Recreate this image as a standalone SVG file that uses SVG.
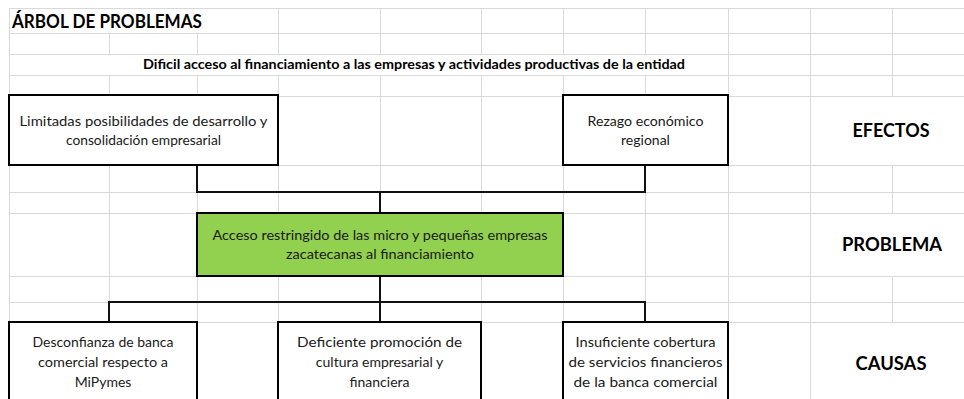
<svg xmlns="http://www.w3.org/2000/svg" width="964" height="399" viewBox="0 0 964 399">
<style>
.grid{stroke:#d9d9d9;stroke-width:1;fill:none;shape-rendering:crispEdges}
.box{fill:#ffffff;stroke:#000000;stroke-width:2}
.green{fill:#92d050;stroke:#000000;stroke-width:2}
.conn{stroke:#111111;stroke-width:2;fill:none}
.t{font-family:Lato,"Liberation Sans",sans-serif;font-size:14px;fill:#1a1a1a;text-anchor:middle}
.lab{font-family:Lato,"Liberation Sans",sans-serif;font-size:19px;font-weight:bold;fill:#000;text-anchor:middle}
.title{font-family:Lato,"Liberation Sans",sans-serif;font-size:18px;font-weight:bold;fill:#000}
.sub{font-family:Lato,"Liberation Sans",sans-serif;font-size:12.5px;font-weight:bold;fill:#000;text-anchor:middle}
</style>
<rect x="0" y="0" width="964" height="399" fill="#ffffff"/>
<g id="grid">
<path class="grid" d="M9 8.5H964M9 33.5H964M9 54.5H964M9 75.5H964M9 96.5H964M9 165.5H964M9 192.5H964M9 213.5H964M9 276.5H964M9 302.5H964M9 322.5H964"/>
<path class="grid" d="M9.5 8V399M109.5 33V54M109.5 75V96M109.5 165V322M197.5 33V54M197.5 75V96M197.5 165V399M278.5 8V54M278.5 75V213M278.5 276V399M380.5 8V54M380.5 75V213M380.5 276V322M481.5 8V54M481.5 75V213M481.5 276V399M563.5 8V54M563.5 75V399M645.5 8V54M645.5 75V96M645.5 165V322M728.5 8V399M810.5 8V399M892.5 8V96M892.5 165V213M892.5 276V322"/>
</g>
<g id="title">
<text class="title" x="12" y="28" textLength="190" lengthAdjust="spacingAndGlyphs">ÁRBOL DE PROBLEMAS</text>
<text class="sub" x="414" y="69" textLength="542" lengthAdjust="spacingAndGlyphs">Dificil acceso al financiamiento a las empresas y actividades productivas de la entidad</text>
</g>
<g id="connectors">
<path class="conn" d="M197 165V192H645V165"/>
<path class="conn" d="M380 192V213"/>
<path class="conn" d="M380 276V302"/>
<path class="conn" d="M109 322V302H645V322M380 302V322"/>
</g>
<g id="efecto1">
<rect class="box" x="9" y="95" width="269" height="70"/>
<text class="t" x="143.5" y="126" textLength="248" lengthAdjust="spacingAndGlyphs">Limitadas posibilidades de desarrollo y</text>
<text class="t" x="143.5" y="145" textLength="155" lengthAdjust="spacingAndGlyphs">consolidación empresarial</text>
</g>
<g id="efecto2">
<rect class="box" x="563" y="95" width="165" height="70"/>
<text class="t" x="645.5" y="126" textLength="116" lengthAdjust="spacingAndGlyphs">Rezago económico</text>
<text class="t" x="645.5" y="145">regional</text>
</g>
<g id="problema">
<rect class="green" x="197" y="213" width="366" height="63"/>
<text class="t" x="380" y="240" textLength="335" lengthAdjust="spacingAndGlyphs">Acceso restringido de las micro y pequeñas empresas</text>
<text class="t" x="380" y="259" textLength="188" lengthAdjust="spacingAndGlyphs">zacatecanas al financiamiento</text>
</g>
<g id="causa1">
<rect class="box" x="9" y="322" width="188" height="90"/>
<text class="t" x="103" y="347" textLength="141" lengthAdjust="spacingAndGlyphs">Desconfianza de banca</text>
<text class="t" x="103" y="367" textLength="130" lengthAdjust="spacingAndGlyphs">comercial respecto a</text>
<text class="t" x="103" y="387">MiPymes</text>
</g>
<g id="causa2">
<rect class="box" x="278" y="322" width="203" height="90"/>
<text class="t" x="379.5" y="347" textLength="165" lengthAdjust="spacingAndGlyphs">Deficiente promoción de</text>
<text class="t" x="379.5" y="367">cultura empresarial y</text>
<text class="t" x="379.5" y="387">financiera</text>
</g>
<g id="causa3">
<rect class="box" x="563" y="322" width="165" height="90"/>
<text class="t" x="645.5" y="347" textLength="140" lengthAdjust="spacingAndGlyphs">Insuficiente cobertura</text>
<text class="t" x="645.5" y="367" textLength="154" lengthAdjust="spacingAndGlyphs">de servicios financieros</text>
<text class="t" x="645.5" y="387" textLength="144" lengthAdjust="spacingAndGlyphs">de la banca comercial</text>
</g>
<g id="labels">
<text class="lab" x="891" y="137" textLength="77" lengthAdjust="spacingAndGlyphs">EFECTOS</text>
<text class="lab" x="892" y="251" textLength="100" lengthAdjust="spacingAndGlyphs">PROBLEMA</text>
<text class="lab" x="891" y="370" textLength="71" lengthAdjust="spacingAndGlyphs">CAUSAS</text>
</g>
</svg>
